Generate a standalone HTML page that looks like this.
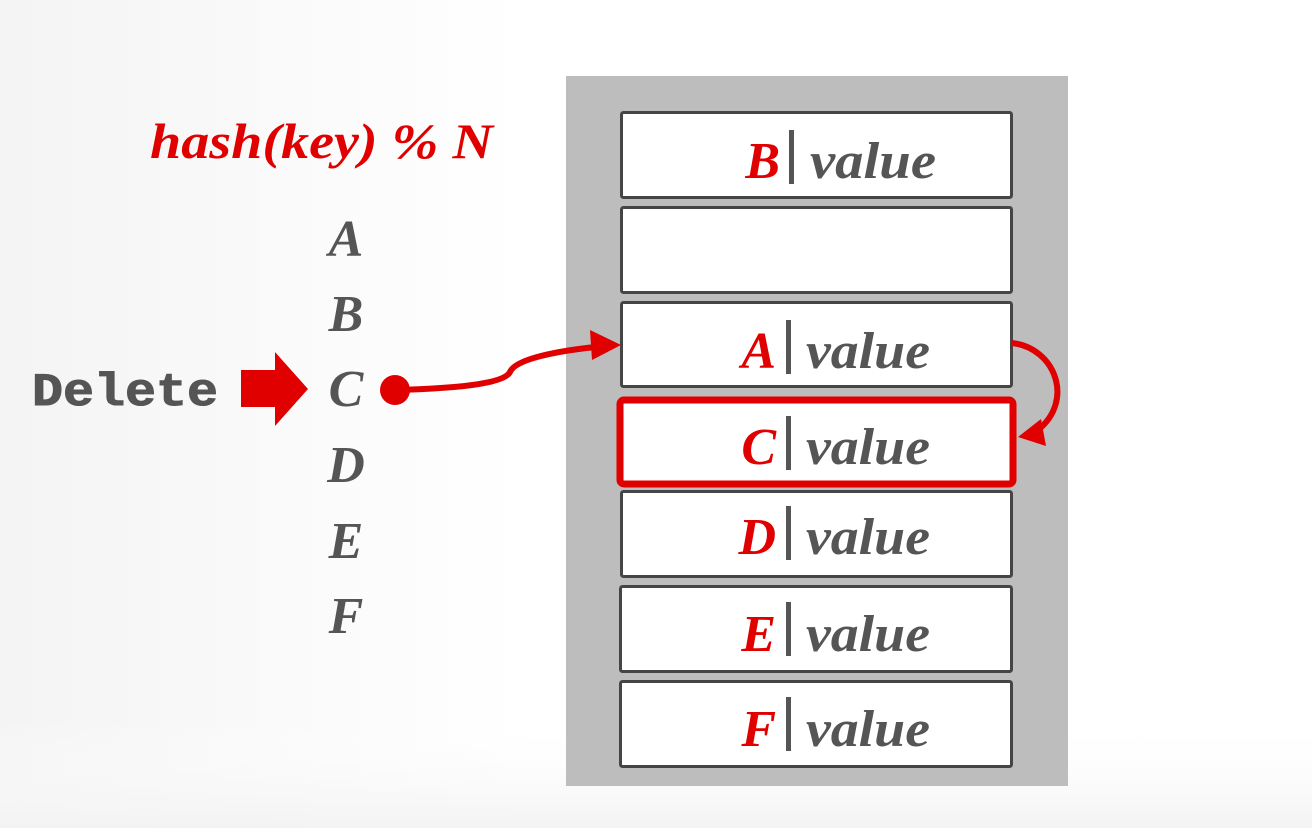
<!DOCTYPE html>
<html><head><meta charset="utf-8"><style>
html,body{margin:0;padding:0;}
body{width:1312px;height:828px;overflow:hidden;background:#fff;}
</style></head><body>
<svg width="1312" height="828" xmlns="http://www.w3.org/2000/svg" style="position:absolute;left:0;top:0">
<defs><linearGradient id="bg" x1="0" x2="1" y1="0" y2="0"><stop offset="0" stop-color="#f4f4f4"/><stop offset="0.4" stop-color="#fff"/></linearGradient>
<linearGradient id="bt" x1="0" x2="0" y1="0" y2="1"><stop offset="0" stop-color="#fff" stop-opacity="0"/><stop offset="1" stop-color="#f3f3f3"/></linearGradient></defs>
<rect x="0" y="0" width="1312" height="828" fill="url(#bg)"/>
<rect x="0" y="720" width="1312" height="108" fill="url(#bt)"/>
<rect x="566" y="76" width="502" height="710" fill="#bdbdbd"/>
<g fill="#fff" stroke="#454545" stroke-width="3">
<rect x="621.5" y="112.5" width="390" height="85" rx="2"/>
<rect x="621.5" y="207.5" width="390" height="85" rx="2"/>
<rect x="621.5" y="302.5" width="390" height="84" rx="2"/>
<rect x="621.5" y="491.5" width="390" height="85" rx="2"/>
<rect x="620.5" y="586.5" width="391" height="85" rx="2"/>
<rect x="620.5" y="681.5" width="391" height="85" rx="2"/>
</g>
<rect x="620" y="400" width="393" height="84" rx="4" fill="#fff" stroke="#e00000" stroke-width="7"/>
<g font-family="Liberation Serif, serif" font-style="italic" font-weight="bold" font-size="52">
<g fill="#e00000" text-anchor="end">
<text x="780" y="178">B</text>
<text x="776" y="368">A</text>
<text x="776" y="464">C</text>
<text x="776" y="554">D</text>
<text x="776" y="651">E</text>
<text x="776" y="746">F</text>
</g>
<g fill="#555">
<text x="810" y="178" textLength="126" lengthAdjust="spacingAndGlyphs">value</text>
<text x="806" y="368" textLength="124" lengthAdjust="spacingAndGlyphs">value</text>
<text x="806" y="464" textLength="124" lengthAdjust="spacingAndGlyphs">value</text>
<text x="806" y="554" textLength="124" lengthAdjust="spacingAndGlyphs">value</text>
<text x="806" y="651" textLength="124" lengthAdjust="spacingAndGlyphs">value</text>
<text x="806" y="746" textLength="124" lengthAdjust="spacingAndGlyphs">value</text>
</g>
</g>
<g fill="#555">
<rect x="789" y="130" width="5" height="54"/>
<rect x="786" y="320" width="5" height="54"/>
<rect x="786" y="416" width="5" height="54"/>
<rect x="786" y="506" width="5" height="54"/>
<rect x="786" y="602" width="5" height="54"/>
<rect x="786" y="697" width="5" height="54"/>
</g>
<text x="150" y="158" font-family="Liberation Serif, serif" font-style="italic" font-weight="bold" font-size="50" fill="#e00000" textLength="343" lengthAdjust="spacingAndGlyphs">hash(key) % N</text>
<g font-family="Liberation Serif, serif" font-style="italic" font-weight="bold" font-size="52" fill="#555" text-anchor="middle">
<text x="346" y="256">A</text>
<text x="346" y="331">B</text>
<text x="346" y="406">C</text>
<text x="346" y="482">D</text>
<text x="346" y="558">E</text>
<text x="346" y="633">F</text>
</g>
<text x="32" y="405" font-family="Liberation Mono, monospace" font-weight="bold" font-size="46" fill="#555" stroke="#555" stroke-width="1" textLength="186" lengthAdjust="spacingAndGlyphs">Delete</text>
<polygon points="241,370 275,370 275,352 308,389 275,426 275,407 241,407" fill="#e00000"/>
<circle cx="395" cy="390" r="15" fill="#e00000"/>
<path d="M395,390 C470,388 505,382 510,372 C515,360 550,352 595,347" fill="none" stroke="#e00000" stroke-width="6"/>
<polygon points="621,345 590,330 592,360" fill="#e00000"/>
<path d="M1012,343 C1055,348 1075,400 1038,430" fill="none" stroke="#e00000" stroke-width="6"/>
<polygon points="1018,437 1041,419 1046,446" fill="#e00000"/>
</svg>
</body></html>
